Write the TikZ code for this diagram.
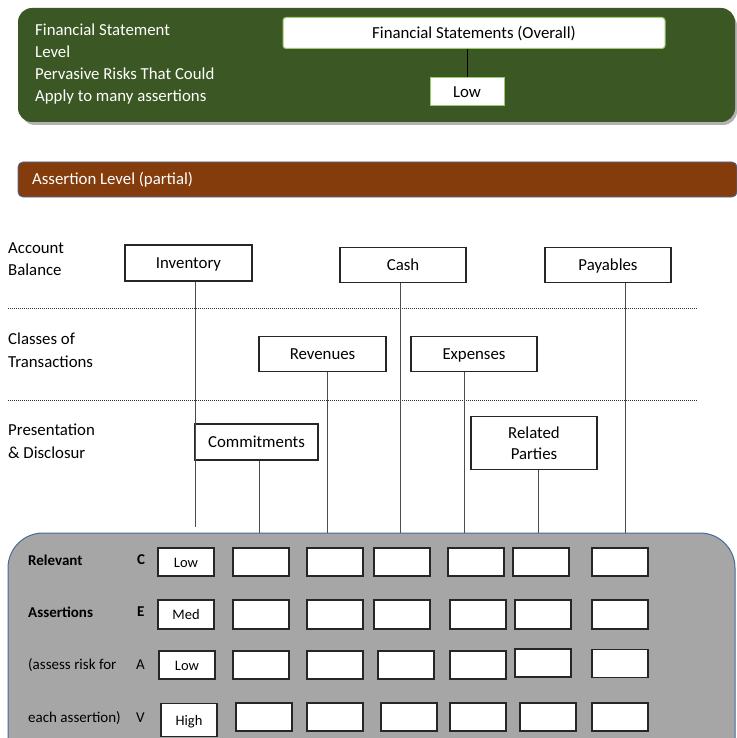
\documentclass[tikz,border=0pt]{standalone}
\usepackage{fontspec}
\setmainfont{Carlito}
\definecolor{fsgreen}{HTML}{3B5723}
\definecolor{lightgreen}{HTML}{9BCB6B}
\definecolor{albrown}{HTML}{843C0C}
\definecolor{panelgray}{HTML}{A6A6A6}
\definecolor{panelblue}{HTML}{4A6A9A}
\tikzset{
  lbl/.style={anchor=west, inner sep=0pt, font=\fontsize{16.8}{22.5}\selectfont},
  wlbl/.style={lbl, text=white},
  acctbase/.style={draw=black!85, line width=1.2pt, fill=white, inner sep=0pt, font=\fontsize{16.8}{21}\selectfont, align=center},
  acct/.style={acctbase, text height=12pt, text depth=1.2pt},
  topbox/.style={draw=lightgreen, line width=1pt, fill=white, inner sep=0pt, font=\fontsize{16.8}{20}\selectfont, text height=12pt, text depth=1pt},
  cell/.style={draw=black!85, line width=1.2pt, fill=white, inner sep=0pt, minimum width=56pt, minimum height=28pt, font=\fontsize{14.5}{16}\selectfont, text height=11pt, text depth=0.6pt},
  link/.style={draw=black!70, line width=0.8pt},
  sep/.style={draw=black!80, line width=0.9pt, dash pattern=on 1pt off 1pt},
  rowlbl/.style={anchor=west, inner sep=0pt, font=\fontsize{15}{17}\selectfont},
  rowbold/.style={rowlbl, font=\fontsize{15}{17}\selectfont\bfseries},
}
\begin{document}
\begin{tikzpicture}[x=1pt,y=-1pt]
\useasboundingbox (0,0) rectangle (736,738);
\fill[white] (0,0) rectangle (736,738);
% green panel
\fill[black!30, rounded corners=14pt] (21,12) rectangle (737,125);
\fill[fsgreen, rounded corners=14pt] (18,8) rectangle (735,122);
\node[wlbl] (t1) at (35,30) {Financial Statement};
\node[wlbl] (t2) at (35,52) {Level};
\node[wlbl] (t3) at (35,74) {Pervasive Risks That Could};
\node[wlbl] (t4) at (35,97) {Apply to many assertions};
\node[topbox, rounded corners=3pt, minimum width=382pt, minimum height=31pt] (fso) at (474,33) {Financial Statements (Overall)};
\node[topbox, minimum width=74pt, minimum height=28pt] (flow) at (467,92) {Low};
\draw[black, line width=0.8pt] (fso.south -| flow.north) -- (flow.north);
% brown bar
\draw[panelblue, fill=albrown, line width=0.8pt, rounded corners=5pt] (18,162) rectangle (737,197);
\node[wlbl] (al) at (32,180) {Assertion Level (partial)};
% row labels
\node[lbl, align=left] (ab) at (8,259) {Account\\Balance};
\node[lbl, align=left] (ct) at (8,350) {Classes of\\Transactions};
\node[lbl, align=left] (pd) at (8,441) {Presentation\\\& Disclosur};
\draw[sep] (8,308) -- (697,308);
\draw[sep] (8,400) -- (697,400);
% gray panel
\draw[panelblue, fill=panelgray, line width=1pt, rounded corners=35pt] (8,533) rectangle (735,790);
% account boxes
\node[acct, minimum width=127pt, minimum height=36pt] (inv) at (188.5,263) {Inventory};
\node[acct, minimum width=126pt, minimum height=35pt] (cash) at (403,265) {Cash};
\node[acct, minimum width=126pt, minimum height=35pt] (pay) at (608,265) {Payables};
\node[acct, minimum width=127pt, minimum height=35pt] (rev) at (322.5,354) {Revenues};
\node[acct, minimum width=126pt, minimum height=35pt] (exp) at (474,354) {Expenses};
\node[acct, minimum width=123pt, minimum height=36pt] (com) at (256.5,442) {Commitments};
\node[acctbase, minimum width=126pt, minimum height=53pt] (rp) at (534,443) {Related\\Parties};
% connector ends
\coordinate (einv) at (195,527);
\coordinate (ecash) at (400,533);
\coordinate (epay) at (625,533);
\coordinate (erev) at (327,533);
\coordinate (eexp) at (464,533);
\coordinate (ecom) at (259,533);
\coordinate (erp) at (538,533);
\draw[link] (inv.south -| einv) -- (einv);
\draw[link] (cash.south -| ecash) -- (ecash);
\draw[link] (pay.south -| epay) -- (epay);
\draw[link] (rev.south -| erev) -- (erev);
\draw[link] (exp.south -| eexp) -- (eexp);
\draw[link] (com.south -| ecom) -- (ecom);
\draw[link] (rp.south -| erp) -- (erp);
% row labels in panel
\node[rowbold] (r1) at (28,560) {Relevant};
\node[rowbold] (r2) at (28,612) {Assertions};
\node[rowlbl] (r3) at (28,665) {(assess risk for};
\node[rowlbl] (r4) at (28,718) {each assertion)};
\node[rowbold] (lc) at (137,560) {C};
\node[rowbold] (le) at (137,612) {E};
\node[rowlbl] (la) at (136,665) {A};
\node[rowlbl] (lv) at (136,718) {V};
% cells row 1
\node[cell] (c11) at (186,562) {Low};
\node[cell] (c12) at (261,562) {};
\node[cell] (c13) at (335,562) {};
\node[cell] (c14) at (402,562) {};
\node[cell] (c15) at (476,562) {};
\node[cell] (c16) at (541,562) {};
\node[cell] (c17) at (620,562) {};
% row 2
\node[cell, minimum height=29pt] (c21) at (186,614.5) {Med};
\node[cell, minimum height=29pt] (c22) at (261,614.5) {};
\node[cell, minimum height=29pt] (c23) at (335,614.5) {};
\node[cell, minimum height=29pt] (c24) at (402,614.5) {};
\node[cell, minimum height=29pt] (c25) at (478,614.5) {};
\node[cell, minimum height=29pt] (c26) at (543,614.5) {};
\node[cell, minimum height=29pt] (c27) at (620,614.5) {};
% row 3
\node[cell] (c31) at (187,665) {Low};
\node[cell] (c32) at (261,665) {};
\node[cell] (c33) at (335,665) {};
\node[cell] (c34) at (406,665) {};
\node[cell] (c35) at (478,665) {};
\node[cell] (c36) at (543,663) {};
\node[cell] (c37) at (620,663.5) {};
% row 4
\node[cell, minimum height=33pt] (c41) at (189,720) {High};
\node[cell] (c42) at (264,717) {};
\node[cell] (c43) at (335,717) {};
\node[cell] (c44) at (409,717) {};
\node[cell] (c45) at (478,717) {};
\node[cell] (c46) at (548,717) {};
\node[cell] (c47) at (620,717) {};
\end{tikzpicture}
\end{document}
